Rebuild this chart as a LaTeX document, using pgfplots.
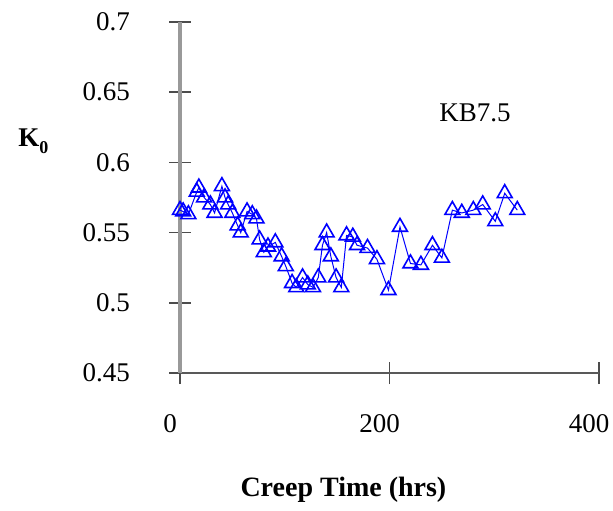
\documentclass[border=0pt]{standalone}
\usepackage{fontspec}
\setmainfont{Liberation Serif}
\usepackage{pgfplots}
\pgfplotsset{compat=1.18}
\begin{document}
\begin{tikzpicture}
% page box: 613x510 px at 0.5pt per px, axis corner at px (180,373)
\path[use as bounding box] (-90pt,-68.5pt) rectangle (216.5pt,186.5pt);
\begin{axis}[
  scale only axis,
  width=209.5pt,
  height=175.5pt,
  xmin=0, xmax=400,
  ymin=0.45, ymax=0.7,
  xtick={0,200,400},
  ytick={0.45,0.5,0.55,0.6,0.65,0.7},
  yticklabels={0.45,0.5,0.55,0.6,0.65,0.7},
  axis lines=left,
  axis line style={-},
  x axis line style={black!65, line width=0.8pt},
  y axis line style={black!40, line width=2pt},
  tick style={black!70, line width=0.8pt},
  tick align=center,
  major tick length=11pt,
  font=\fontsize{13.5pt}{16pt}\selectfont,
  /pgf/number format/assume math mode=true,
  yticklabel style={xshift=-16pt},
  xticklabel style={yshift=-11.5pt, xshift=-5pt},
  xlabel={\fontsize{14pt}{16pt}\selectfont\textbf{Creep Time (hrs)}},
  xlabel style={at={(axis description cs:0.39,-0.333)}, anchor=center},
  ylabel={\textbf{K}\raisebox{-0.6ex}{\fontsize{9pt}{10pt}\selectfont\textbf{0}}},
  ylabel style={rotate=-90, at={(axis description cs:-0.35,0.66)}, anchor=center},
  clip=false,
]
\addplot[blue, line width=0.5pt, mark=triangle, mark size=4.3pt,
  mark options={draw=blue, line width=0.8pt}] coordinates {
  (0,0.566) (3,0.565) (8,0.563) (16,0.579) (18,0.582) (23,0.575)
  (29,0.570) (33,0.564) (40,0.583) (43,0.575) (46,0.570) (50,0.564)
  (55,0.555) (58,0.550) (64,0.565) (69,0.563) (73,0.560) (76,0.545)
  (80,0.536) (84,0.540) (91,0.543) (97,0.533) (101,0.526) (107,0.514)
  (111,0.511) (117,0.518) (122,0.513) (127,0.511) (132,0.518) (136,0.541)
  (140,0.550) (144,0.533) (149,0.518) (154,0.511) (159,0.548) (165,0.547)
  (169,0.541) (179,0.539) (188,0.531) (199,0.509) (210,0.554) (220,0.528)
  (230,0.527) (241,0.541) (250,0.532) (260,0.566) (269,0.564) (280,0.566)
  (289,0.570) (301,0.558) (310,0.578) (322,0.566)
};
\node[anchor=center] at (axis description cs:0.704,0.741) {KB7.5};
\end{axis}
\end{tikzpicture}
\end{document}
